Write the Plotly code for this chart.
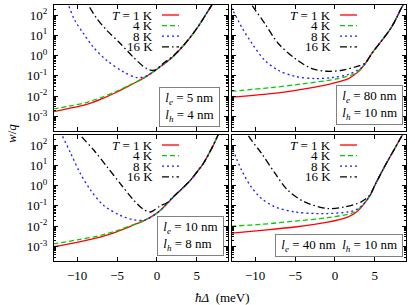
import plotly.graph_objects as go
from plotly.subplots import make_subplots

# ---------------- data ----------------
# Panel A: l_e = 5 nm, l_h = 4 nm
a_red_x = [-13, -11, -9, -7, -5, -3, -1.3, 0.4, 2, 3.7, 5, 6.2, 7.5, 9]
a_red_y = [1.7e-3, 2.5e-3, 3.7e-3, 7.1e-3, 1.6e-2, 4.1e-2, 9.5e-2, 0.28, 0.89, 4.7, 22, 120, 790, 7900]
a_green_x = [-13, -11, -9, -7, -5, -3, -1.3, 0.4, 2, 3.7, 5, 6.2, 7.5, 9]
a_green_y = [2.3e-3, 3.2e-3, 4.7e-3, 8.5e-3, 1.8e-2, 4.2e-2, 9.5e-2, 0.28, 0.89, 4.7, 22, 120, 790, 7900]
a_blue_x = [-11.8, -11.1, -10.3, -9.2, -8, -6.3, -4.2, -2.5, -1.3, 0.4, 2, 3.7, 5, 6.2, 7.5, 9]
a_blue_y = [1260, 316, 56, 12.3, 2.7, 0.59, 0.158, 8.3e-2, 0.10, 0.28, 0.89, 4.7, 22, 120, 790, 7900]
a_black_x = [-9.3, -8.6, -7.55, -6.3, -4.6, -3, -1.3, -0.3, 0.8, 2, 3.7, 5, 6.2, 7.5, 9]
a_black_y = [1000, 316, 69, 18, 4.0, 0.87, 0.23, 0.19, 0.42, 0.95, 4.8, 22, 120, 790, 7900]

# Panel B: l_e = 80 nm, l_h = 10 nm
b_red_x = [-13, -8, -4, -0.4, 1.7, 2.9, 3.8, 4.6, 5.9, 7.1, 8.4, 9.2]
b_red_y = [8.9e-3, 1.32e-2, 2.24e-2, 4.2e-2, 7.4e-2, 0.158, 0.41, 1.26, 5.8, 26, 257, 1000]
b_green_x = [-13, -8, -4, 0.4, 2.5, 3.8, 4.6, 5.9, 7.1, 8.4, 9.2]
b_green_y = [1.74e-2, 2.63e-2, 4.07e-2, 7.4e-2, 0.132, 0.41, 1.26, 5.8, 26, 257, 1000]
b_blue_x = [-13, -11.7, -10.4, -8.8, -7.1, -5, -2.5, -0.4, 1.7, 3.3, 3.8, 4.6, 5.9, 7.1, 8.4, 9.2]
b_blue_y = [251, 26.3, 3.98, 0.59, 0.19, 9.5e-2, 7.4e-2, 8.3e-2, 0.12, 0.25, 0.41, 1.26, 5.8, 26, 257, 1000]
b_black_x = [-11.2, -10.4, -8.8, -7.1, -5, -2.9, -1, 0.9, 2.5, 3.8, 4.6, 5.9, 7.1, 8.4, 9.2]
b_black_y = [1260, 316, 39, 3.98, 0.72, 0.23, 0.17, 0.19, 0.275, 0.44, 1.26, 5.8, 26, 257, 1000]

# Panel C: l_e = 10 nm, l_h = 8 nm
c_red_x = [-13, -10, -7, -5, -3, -1.5, 0, 1, 2, 3, 4.2, 5, 5.8, 7, 8, 9]
c_red_y = [9.5e-4, 1.58e-3, 2.95e-3, 5.4e-3, 1.12e-2, 2.0e-2, 4.4e-2, 0.10, 0.26, 0.63, 1.86, 4.7, 12.3, 89, 630, 4000]
c_green_x = [-13, -10, -7, -5, -3, -1.5, 0, 1, 2, 3, 4.2, 5, 5.8, 7, 8, 9]
c_green_y = [1.32e-3, 2.1e-3, 3.55e-3, 6.0e-3, 1.17e-2, 2.0e-2, 4.4e-2, 0.10, 0.26, 0.63, 1.86, 4.7, 12.3, 89, 630, 4000]
c_blue_x = [-12.6, -11.9, -10.8, -9.6, -8.3, -6.7, -4.6, -3, -1.5, 0, 1, 2, 3, 4.2, 5, 5.8, 7, 8, 9]
c_blue_y = [1260, 316, 39, 3.98, 0.59, 0.107, 3.4e-2, 2.1e-2, 2.0e-2, 4.4e-2, 0.10, 0.26, 0.63, 1.86, 4.7, 12.3, 89, 630, 4000]
c_black_x = [-10.4, -9.6, -7.9, -6.25, -4.6, -2.9, -1.7, -0.8, 0.4, 1.2, 2.0, 3, 4.2, 5, 5.8, 7, 8, 9]
c_black_y = [1000, 316, 56, 8.5, 1.26, 0.19, 6.8e-2, 5.0e-2, 0.10, 0.14, 0.275, 0.63, 1.86, 4.7, 12.3, 89, 630, 4000]

# Panel D: l_e = 40 nm, l_h = 10 nm
d_red_x = [-13, -9.2, -5, -0.9, 1.6, 2.7, 3.5, 4.4, 5, 6.2, 7.5, 8.3, 9.2]
d_red_y = [4.5e-3, 6.2e-3, 9.1e-3, 1.58e-2, 2.8e-2, 5.0e-2, 0.107, 0.33, 1.05, 8.5, 69, 251, 1000]
d_green_x = [-13, -9.2, -5, -0.9, 2.5, 3.5, 4.4, 5, 6.2, 7.5, 8.3, 9.2]
d_green_y = [1.0e-2, 1.23e-2, 1.78e-2, 2.63e-2, 5.0e-2, 0.117, 0.33, 1.05, 8.5, 69, 251, 1000]
d_blue_x = [-13, -11.7, -10.5, -9.2, -7.5, -5, -2.5, -0.9, 1.6, 2.7, 3.5, 4.4, 5, 6.2, 7.5, 8.3, 9.2]
d_blue_y = [100, 5.8, 0.87, 0.23, 8.9e-2, 5.0e-2, 4.2e-2, 4.2e-2, 5.0e-2, 6.6e-2, 0.115, 0.33, 1.05, 8.5, 69, 251, 1000]
d_black_x = [-11.6, -10.9, -9.2, -7.5, -5.9, -3.8, -0.9, 1.2, 3.3, 4.4, 5, 6.2, 7.5, 8.3, 9.2]
d_black_y = [1260, 316, 39, 4.0, 0.59, 0.158, 7.4e-2, 8.9e-2, 0.158, 0.355, 1.05, 8.5, 69, 251, 1000]

legend_labels = ["<i>T</i> = 1 K", "4 K", "8 K", "16 K"]
x_tick_vals = [-10, -5, 0, 5]
y_tick_vals = [1e-3, 1e-2, 1e-1, 1e0, 1e1, 1e2]
y_tick_text = ["10<sup>-3</sup>", "10<sup>-2</sup>", "10<sup>-1</sup>",
               "10<sup>0</sup>", "10<sup>1</sup>", "10<sup>2</sup>"]
NB = "\u00a0"
box_texts = [
    NB + "<i>l</i><sub><i>e</i></sub> = 5 nm" + NB + "<br>" + NB + "<i>l</i><sub><i>h</i></sub> = 4 nm" + NB,
    NB + "<i>l</i><sub><i>e</i></sub> = 80 nm" + NB + "<br>" + NB + "<i>l</i><sub><i>h</i></sub> = 10 nm" + NB,
    NB + "<i>l</i><sub><i>e</i></sub> = 10 nm" + NB + "<br>" + NB + "<i>l</i><sub><i>h</i></sub> = 8 nm" + NB,
    NB + "<i>l</i><sub><i>e</i></sub> = 40 nm" + NB + NB + "<i>l</i><sub><i>h</i></sub> = 10 nm" + NB,
]

# ---------------- styling ----------------
W, H = 415, 305
FONT = "Liberation Serif, Times New Roman, serif"
colors = ["#ff0000", "#00cc00", "#1a1aff", "#000000"]
dashes = ["solid", "5px,3px", "2px,3px", "7px,3px,1.5px,3px"]
LW = 1.3

def fx(p):
    return p / W

def fy(p):
    return 1 - p / H

# panel geometry in pixels: (left, right, top, bottom)
geom = [(54, 228, 5, 131), (232, 406, 5, 131), (54, 228, 135, 261), (232, 406, 135, 261)]
box_pos = [(220, 127), (403, 125), (224, 256), (403, 257)]

series = [
    [(a_red_x, a_red_y), (a_green_x, a_green_y), (a_blue_x, a_blue_y), (a_black_x, a_black_y)],
    [(b_red_x, b_red_y), (b_green_x, b_green_y), (b_blue_x, b_blue_y), (b_black_x, b_black_y)],
    [(c_red_x, c_red_y), (c_green_x, c_green_y), (c_blue_x, c_blue_y), (c_black_x, c_black_y)],
    [(d_red_x, d_red_y), (d_green_x, d_green_y), (d_blue_x, d_blue_y), (d_black_x, d_black_y)],
]

fig = make_subplots(rows=2, cols=2)
annotations = []
shapes = []
minor_vals = [m * 10.0 ** e for e in range(-4, 3) for m in range(2, 10)]

for i, (sers, (l, r, t, b)) in enumerate(zip(series, geom)):
    row, col = i // 2 + 1, i % 2 + 1
    for k, (xs, ys) in enumerate(sers):
        fig.add_trace(go.Scatter(x=xs, y=ys, mode="lines",
                                 line=dict(color=colors[k], width=LW, dash=dashes[k],
                                           shape="spline", smoothing=0.9),
                                 showlegend=False, hoverinfo="skip"),
                      row=row, col=col)
    axn = "" if i == 0 else str(i + 1)
    fig.layout["xaxis" + axn].update(
        domain=[fx(l), fx(r)], range=[-12.9, 8.9], tickmode="array", tickvals=x_tick_vals,
        ticks="inside", ticklen=4, tickcolor="black", showline=True, linecolor="black",
        linewidth=1, mirror="ticks", showgrid=False, zeroline=False,
        showticklabels=(row == 2), ticklabelstandoff=2,
        tickfont=dict(family=FONT, size=13, color="black"))
    fig.layout["yaxis" + axn].update(
        domain=[fy(b), fy(t)], type="log", range=[-3.72, 2.5], tickmode="array",
        tickvals=y_tick_vals, ticktext=y_tick_text,
        ticks="inside", ticklen=4, tickcolor="black", showline=True, linecolor="black",
        linewidth=1, mirror="ticks", showgrid=False, zeroline=False,
        showticklabels=(col == 1), ticklabelstandoff=3,
        tickfont=dict(family=FONT, size=13, color="black"),
        minor=dict(ticks="inside", ticklen=2, tickcolor="black", tickmode="array",
                   tickvals=minor_vals, showgrid=False))
    # legend (text right of which a line sample is drawn)
    for k, lab in enumerate(legend_labels):
        yy = t + 10 + 10.6 * k
        annotations.append(dict(x=fx(r - 73), y=fy(yy), xref="paper", yref="paper",
                                text=lab, showarrow=False, xanchor="right", yanchor="middle",
                                font=dict(family=FONT, size=13, color="black")))
        shapes.append(dict(type="line", xref="paper", yref="paper",
                           x0=fx(r - 66), x1=fx(r - 49), y0=fy(yy), y1=fy(yy),
                           line=dict(color=colors[k], width=LW, dash=dashes[k])))
    bx, by = box_pos[i]
    annotations.append(dict(x=fx(bx), y=fy(by), xref="paper", yref="paper",
                            text=box_texts[i], showarrow=False, xanchor="right",
                            yanchor="bottom", align="left", bgcolor="white",
                            bordercolor="#808080", borderwidth=1, borderpad=2,
                            font=dict(family=FONT, size=13, color="black")))

annotations.append(dict(x=fx(11), y=fy(134), xref="paper", yref="paper",
                        text="<i>w</i>/<i>q</i>", textangle=-90, showarrow=False,
                        xanchor="center", yanchor="middle",
                        font=dict(family=FONT, size=13, color="black")))
annotations.append(dict(x=fx(222), y=fy(297), xref="paper", yref="paper",
                        text="<i>\u0127\u0394</i>\u00a0\u00a0(meV)", showarrow=False,
                        xanchor="center", yanchor="middle",
                        font=dict(family=FONT, size=13, color="black")))

fig.update_layout(width=W, height=H, margin=dict(l=0, r=0, t=0, b=0),
                  plot_bgcolor="white", paper_bgcolor="white", showlegend=False,
                  annotations=annotations, shapes=shapes)

fig.write_html("out.html", config={"displayModeBar": False},
               post_script="document.body.style.margin='0';document.body.style.overflow='hidden';")
